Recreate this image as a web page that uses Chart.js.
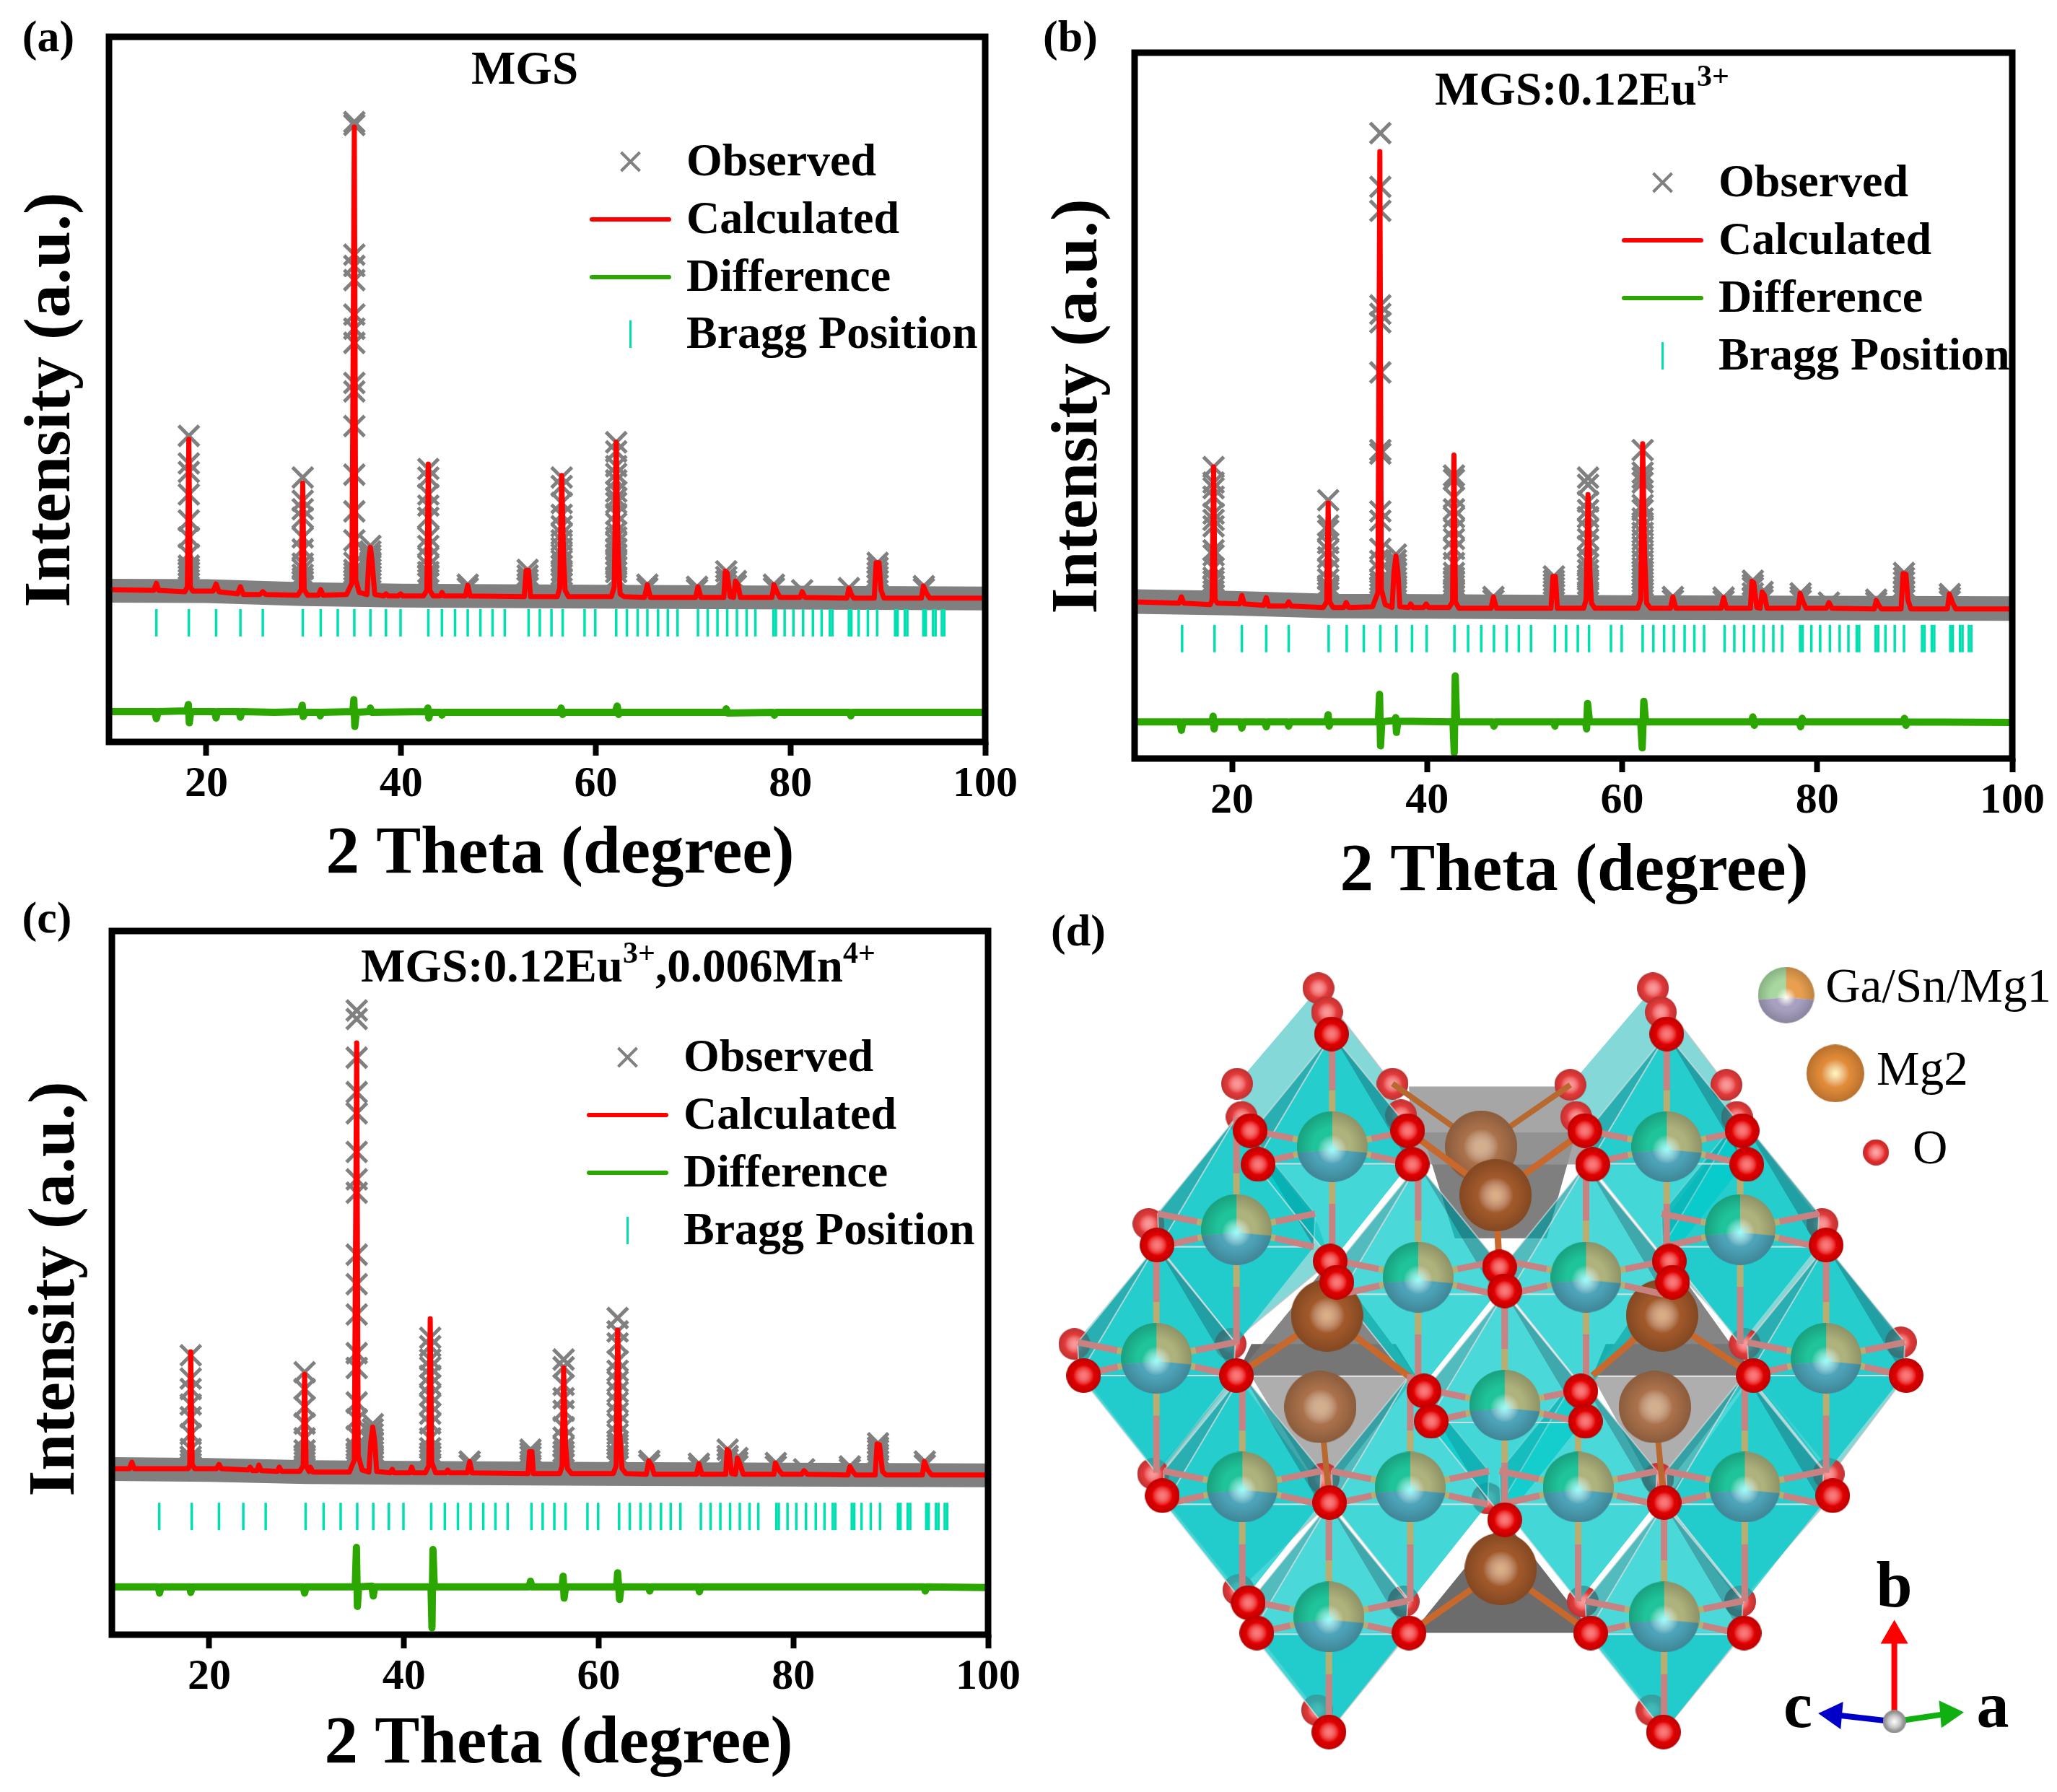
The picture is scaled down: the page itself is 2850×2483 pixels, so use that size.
<!DOCTYPE html>
<html lang="en">
<head>
    <meta charset="UTF-8">
    <title>Rietveld refinement of MGS samples</title>
    <style>
        body { margin: 0; background: #fff; }
        #page { position: relative; width: 2850px; height: 2483px; overflow: hidden; background: #fff; }
        canvas { position: absolute; }
    </style>
    <script src="https://cdn.jsdelivr.net/npm/chart.js"></script>
</head>
<body>
<div id="page">
    <canvas id="chartA" width="1425" height="1290" style="left:0;top:0"></canvas>
    <canvas id="chartB" width="1425" height="1290" style="left:1425px;top:0"></canvas>
    <canvas id="chartC" width="1425" height="1243" style="left:0;top:1240px"></canvas>
    <canvas id="chartD" width="1425" height="1243" style="left:1425px;top:1240px"></canvas>
</div>
<script>
const xTicks = [20, 40, 60, 80, 100];
const legendLabels = ['Observed', 'Calculated', 'Difference', 'Bragg Position'];

const braggPositions = [14.87, 18.2, 21, 23.5, 25.8, 29.9, 31.75, 33.5, 35.2, 36.85, 38.45, 39.95, 42.8, 44.2, 45.55, 46.85,
    48.15, 49.4, 50.65, 53.1, 54.25, 55.45, 56.6, 58.85, 59.95, 62.1, 63.2, 64.3, 65.3, 66.4, 67.4, 68.4, 70.5, 71.5, 72.5,
    73.5, 74.5, 75.5, 76.4, 78.25, 78.5, 79.4, 80.3, 81.3, 82.3, 83.2, 84.05, 84.3, 86, 86.25, 87, 87.95, 88.9, 90.75, 91,
    91.75, 92, 93.65, 93.9, 94.65, 94.9, 95.55, 95.8];

// panel (a), each obs row is: 2theta, then the intensities stacked at that angle
const bandA = [[10, 21.45], [20, 21.4], [30, 20.95], [40, 20.75], [60, 20.6], [100, 20.35]];
const obsA = [
    [18.2, 43.4, 39.5, 38.3, 35.1, 31.4, 29, 26.6, 25, 24.5, 24, 23.5, 23, 22.5],
    [29.9, 37.5, 34.2, 33, 31.8, 29, 27.3, 25.3, 24.5, 23.7, 23.2, 22.7, 22.2],
    [35.2, 87.9, 87.5, 69.1, 67.5, 65.5, 60.6, 58.6, 56.6, 50.9, 49.7, 44.8, 37.9, 32.7, 28.6, 25.4, 24.4, 23.9, 23.4, 22.9, 22.4],
    [36.85, 27.8, 27, 26.5, 26, 25.5, 25, 24.5, 24, 23.5, 23, 22.5],
    [42.8, 38.7, 37.5, 35.1, 33.5, 31.8, 29, 27.8, 26.2, 25, 24.1, 23.5, 23, 22.5],
    [46.85, 22.3, 21.8], [53, 24.4, 23.6, 23, 22.4, 21.9],
    [56.5, 37.5, 36.3, 33.9, 32.2, 30.6, 29.5, 28.6, 27.5, 26.6, 25.7, 25, 24.3, 23.7, 23, 22.5],
    [62.1, 42.5, 41.2, 39.1, 38, 37.1, 35.5, 34.6, 33.9, 32.3, 31, 29.8, 29, 28.2, 27.4, 26.6, 25.9, 25.4, 24.7, 24.1, 23.2, 22.6],
    [65.3, 22.3, 21.8], [70.4, 22, 21.6], [73.4, 24.2, 23.4, 22.8, 22.2], [74.4, 22.8, 22.2], [78.3, 22.3, 21.8], [81.2, 21.5], [86, 21.8],
    [88.95, 25.4, 24.7, 24, 23.4, 22.8, 22.2], [93.7, 22.1, 21.7]
];
const calcA = [[10, 21.6], [14.6, 21.5], [14.87, 22.5], [15.1, 21.5], [17.8, 21.3], [18.05, 22], [18.2, 42.9], [18.35, 22], [18.6, 21.4],
    [20.7, 21.4], [21, 22.4], [21.3, 21.3], [23.2, 21], [23.5, 22], [23.8, 20.9], [25.5, 20.9], [25.8, 21.3], [26.1, 20.9],
    [29.4, 20.8], [29.75, 21.6], [29.9, 36.7], [30.05, 21.6], [30.4, 20.8], [31.5, 20.8], [31.75, 21.6], [32, 20.8],
    [34.4, 20.9], [34.95, 22.5], [35.2, 87.2], [35.35, 23], [35.7, 21.2], [36.5, 20.9], [36.7, 26], [36.85, 27.6], [37, 26], [37.3, 20.9],
    [38.2, 20.7], [38.45, 21], [38.7, 20.7], [39.7, 20.7], [39.95, 21], [40.2, 20.7], [42.3, 20.7], [42.65, 21.5], [42.8, 39.4], [42.95, 21.5],
    [43.3, 20.7], [44, 20.7], [44.2, 21.2], [44.4, 20.7], [46.6, 20.7], [46.85, 22.2], [47.1, 20.7], [52.65, 20.6], [52.85, 24.3], [53.1, 24.3],
    [53.3, 20.6], [56.05, 20.6], [56.3, 21.8], [56.5, 37.8], [56.7, 26], [56.85, 21.5], [57.2, 20.6], [61.6, 20.6], [61.9, 22], [62.1, 42.5],
    [62.3, 27], [62.5, 21], [62.9, 20.6], [65, 20.5], [65.3, 22.3], [65.6, 20.5], [70.25, 20.5], [70.5, 22], [70.8, 20.5], [73.15, 20.5],
    [73.3, 24.2], [73.5, 24], [73.8, 20.6], [74.15, 20.5], [74.35, 22.8], [74.6, 22.3], [74.85, 20.5], [78.1, 20.5], [78.3, 22.3], [78.6, 21.3],
    [78.9, 20.5], [81, 20.5], [81.2, 21.3], [81.5, 20.5], [85.8, 20.4], [86, 21.8], [86.3, 20.8], [86.5, 20.4], [88.6, 20.4], [88.8, 25.4],
    [89.1, 25.4], [89.3, 21.5], [89.6, 20.4], [93.45, 20.4], [93.65, 22.1], [94, 21], [94.3, 20.4], [100, 20.4]];
const diffA = [[10, 4.3], [14.7, 4.3], [14.87, 3.3], [15.05, 4.3], [18, 4.4], [18.15, 5.3], [18.25, 2.7], [18.4, 4.3], [20.85, 4.3], [21, 3.4], [21.15, 4.3],
    [23.35, 4.3], [23.5, 3.5], [23.65, 4.3], [27, 4.2], [29.7, 4.3], [29.85, 5.2], [29.95, 3.6], [30.15, 4.2], [31.6, 4.2], [31.7, 3.7], [31.85, 4.2],
    [35.05, 4.3], [35.15, 6], [35.25, 2.2], [35.4, 4.2], [36.75, 4.3], [36.85, 4.8], [37, 4.2], [42.65, 4.3], [42.75, 4.8], [42.85, 3.4], [43, 4.2],
    [44.1, 4.2], [44.2, 3.8], [44.35, 4.2], [56.3, 4.2], [56.45, 4.8], [56.6, 3.9], [56.75, 4.2], [62, 4.2], [62.2, 5.1], [62.35, 3.9], [62.5, 4.2],
    [73.3, 4.2], [73.4, 4.7], [73.55, 4.1], [78.2, 4.2], [78.35, 3.8], [78.5, 4.2], [86.05, 4.2], [86.2, 3.7], [86.35, 4.2], [100, 4.2]];

// panel (b)
const bandB = [[10, 22.25], [20, 22], [30, 21.6], [40, 21.55], [60, 21.4], [100, 21.25]];
const obsB = [
    [18.1, 41.3, 39.1, 38.3, 37.1, 34.7, 33.8, 32.9, 29.5, 28.8, 27, 25.6, 25.1, 24.3, 23.7, 23.2],
    [29.85, 36.6, 33, 32.3, 30.5, 29.5, 28.5, 26.8, 25.4, 24.5, 24, 23.5, 23],
    [35.2, 88.6, 81, 77.6, 64.2, 63, 61.8, 54.7, 43.7, 43.2, 35, 33.7, 29.7, 28, 26.7, 25.3, 24.8, 24.3, 23.8, 23.3],
    [36.8, 28.9, 28.1, 27.5, 26.9, 26.2, 25.6, 25, 24.5, 24, 23.5, 23],
    [42.75, 40.1, 39.5, 37, 35.3, 34.2, 32.5, 31.1, 29.7, 27.7, 26.3, 25.6, 25, 24.5, 24, 23.5, 23],
    [46.8, 22.9, 22.4], [53, 25.8, 25.2, 24.7, 24.2, 23.7, 23.2],
    [56.5, 39.8, 38.8, 36.4, 35.2, 34.2, 32.5, 31.1, 30.1, 28.4, 27.5, 26.7, 25.9, 25.3, 24.7, 24.2, 23.6, 23.1],
    [62.1, 43.7, 40.5, 39.8, 39.1, 35.9, 35.2, 34, 33, 32, 31, 30, 29, 28, 27, 26.5, 26, 25.5, 25, 24.5, 24, 23.5, 23],
    [65.2, 22.9, 22.4], [70.4, 22.8, 22.3], [73.4, 25.2, 24.6, 24.2, 23.4, 22.8], [74.4, 23.6, 23, 22.5], [78.3, 23.4, 22.9, 22.4], [81.2, 22.1], [86.05, 22.5, 22.1],
    [88.9, 26.3, 25.6, 25, 24.3, 23.6, 23, 22.5], [93.6, 23.3, 22.8, 22.3]
];
const calcB = [[10, 22.2], [14.55, 22], [14.8, 22.9], [15.05, 22], [17.75, 21.8], [17.95, 22.5], [18.1, 41.3], [18.25, 22.5], [18.5, 22], [20.75, 21.9],
    [21, 23.1], [21.25, 21.9], [23.25, 21.7], [23.5, 22.8], [23.75, 21.6], [25.55, 21.6], [25.8, 22.2], [26.05, 21.6], [29.35, 21.4], [29.7, 22.2],
    [29.85, 36.2], [30, 22.2], [30.35, 21.4], [31.45, 21.4], [31.7, 22.1], [31.95, 21.4], [34.4, 21.5], [34.95, 23.5], [35.15, 86], [35.3, 24],
    [35.7, 21.8], [36.4, 21.4], [36.6, 26.5], [36.8, 28.7], [37, 26.5], [37.2, 21.5], [38.1, 21.4], [38.3, 21.9], [38.55, 21.4], [39.65, 21.4],
    [39.9, 21.9], [40.15, 21.4], [42.25, 21.4], [42.6, 22.2], [42.75, 43], [42.9, 22.2], [43.25, 21.3], [46.55, 21.3], [46.8, 22.9], [47.1, 21.3],
    [52.7, 21.3], [52.9, 25.8], [53.15, 25.8], [53.35, 21.3], [56.05, 21.3], [56.3, 22.5], [56.5, 37.4], [56.7, 26], [56.85, 22], [57.2, 21.3],
    [61.6, 21.3], [61.9, 22.5], [62.1, 44.6], [62.3, 29], [62.5, 22], [62.9, 21.3], [64.95, 21.3], [65.2, 22.9], [65.5, 21.3], [70.15, 21.3],
    [70.4, 22.8], [70.7, 21.3], [73.15, 21.3], [73.3, 25.1], [73.5, 24.9], [73.8, 21.4], [74.15, 21.3], [74.35, 23.6], [74.6, 23.1], [74.85, 21.3],
    [78.05, 21.3], [78.25, 23.4], [78.55, 22.2], [78.85, 21.3], [80.95, 21.3], [81.2, 22.1], [81.5, 21.3], [85.85, 21.2], [86.05, 22.4], [86.35, 21.6],
    [86.6, 21.2], [88.6, 21.2], [88.8, 26.2], [89.1, 26.1], [89.3, 22.5], [89.6, 21.2], [93.35, 21.2], [93.55, 23.3], [93.9, 22], [94.2, 21.2], [100, 21.2]];
const diffB = [[10, 5.2], [14.65, 5.2], [14.8, 4], [14.95, 5.2], [17.95, 5.2], [18.05, 6], [18.15, 4.2], [18.3, 5.2], [20.85, 5.2], [21, 4.3], [21.15, 5.2],
    [23.35, 5.2], [23.5, 4.5], [23.65, 5.2], [25.65, 5.2], [25.8, 4.6], [25.95, 5.2], [29.7, 5.2], [29.85, 6.2], [29.95, 4.6], [30.1, 5.2],
    [35, 5.2], [35.12, 9.1], [35.22, 1.8], [35.35, 5.2], [36.65, 5.4], [36.78, 5.8], [36.85, 3.7], [37, 5.3], [42.65, 5.2], [42.78, 0.8], [42.88, 11.7], [43.02, 5.2],
    [46.7, 5.2], [46.85, 4.6], [47, 5.2], [53, 5.2], [53.1, 4.6], [53.2, 5.2], [56.25, 5.2], [56.35, 4.2], [56.45, 7.8], [56.65, 5.2],
    [61.9, 5.2], [62.05, 1.5], [62.22, 8.1], [62.4, 5.2], [73.25, 5.2], [73.4, 5.9], [73.55, 4.7], [73.7, 5.2], [78.15, 5.2], [78.3, 4.5], [78.45, 5.7], [78.6, 5.2],
    [88.8, 5.2], [88.95, 5.7], [89.1, 4.7], [89.25, 5.2], [100, 5.1]];

// panel (c)
const bandC = [[10, 23.55], [20, 23.4], [30, 23.1], [40, 23], [60, 22.85], [100, 22.65]];
const obsC = [
    [18.1, 39.7, 36.4, 34.9, 32.7, 30.9, 28.5, 26.4, 25.3, 24.8, 24.3],
    [29.8, 37.3, 34.9, 32.4, 30, 27.9, 26.2, 25.5, 25, 24.5, 24],
    [35.15, 88.7, 87.5, 82, 77.1, 74.1, 68.6, 64.7, 62.8, 54, 49.8, 45.5, 40, 37.9, 33, 30.6, 28.2, 26.4, 25.8, 25.3, 24.8, 24.3],
    [36.8, 29.9, 29.2, 28.5, 27.8, 27.2, 26.5, 26, 25.5, 25, 24.5, 24],
    [42.7, 42.2, 41, 39.1, 38, 36.8, 35.5, 34, 32.7, 31.4, 30, 27.9, 26.5, 25.8, 25.3, 24.8, 24.3],
    [46.75, 24.6, 24.1], [53, 26.3, 25.8, 25.3, 24.6, 24.1],
    [56.4, 39.1, 38, 35.5, 33.6, 31.8, 29.5, 28, 26.7, 26, 25.4, 24.8, 24.3],
    [61.95, 45, 43.1, 41.4, 38.9, 37.5, 36, 34.5, 33, 31.5, 30, 28.5, 27.5, 27, 26.5, 25.5, 25, 24.5, 24],
    [65.2, 24.7, 24.2], [70.3, 24.3, 23.8], [73.25, 26.3, 25.4, 24.9, 24.3], [74.25, 25.1, 24.5, 24], [78.2, 24.4, 23.9], [81.1, 23.5], [85.8, 23.9, 23.5],
    [88.7, 27.2, 26.6, 26.2, 25.6, 25.2, 24.6, 24], [93.5, 24.6, 24.1]
];
const calcC = [[10, 23.6], [11.8, 23.6], [12.05, 24.5], [12.3, 23.6], [17.85, 23.6], [18, 24.2], [18.1, 40.2], [18.25, 24.2], [18.5, 23.6], [20.75, 23.6],
    [21, 24.2], [21.25, 23.6], [24, 23.4], [24.2, 23.8], [24.45, 23.3], [24.9, 23.3], [25.1, 24.1], [25.35, 23.3], [27, 23.2], [27.2, 23.8],
    [27.45, 23.2], [29.3, 23.2], [29.65, 24], [29.8, 37], [29.95, 24], [30.25, 23.2], [30.4, 23.8], [30.65, 23.1], [34.4, 23.1], [34.9, 24.8],
    [35.15, 84.1], [35.3, 25.5], [35.7, 23.4], [36.4, 23.1], [36.6, 27.5], [36.8, 29.5], [37, 27.5], [37.2, 23.2], [38.6, 23], [38.8, 23.5],
    [39, 23], [40.6, 23], [40.8, 23.8], [41, 23], [42.2, 23], [42.55, 24], [42.7, 44.9], [42.85, 24.5], [43.25, 23], [44.3, 23],
    [44.5, 23.4], [44.7, 23], [46.5, 23], [46.75, 24.6], [47, 23], [52.75, 22.9], [52.9, 26], [53.15, 26], [53.3, 22.9], [56, 22.9],
    [56.25, 24], [56.4, 37.9], [56.6, 27], [56.8, 23.6], [57.2, 22.9], [61.5, 22.9], [61.8, 24], [61.95, 43.3], [62.15, 29], [62.4, 23.6],
    [62.8, 22.9], [64.9, 22.8], [65.15, 24.7], [65.45, 24], [65.7, 22.8], [70.05, 22.8], [70.3, 24.3], [70.6, 22.8], [73.05, 22.8], [73.2, 26.3],
    [73.4, 26], [73.65, 22.9], [74.05, 22.8], [74.25, 25.1], [74.5, 24.3], [74.85, 22.8], [78, 22.8], [78.15, 24.4], [78.5, 23.4], [78.85, 22.8],
    [80.85, 22.8], [81.1, 23.3], [81.45, 22.8], [85.6, 22.7], [85.8, 23.9], [86.15, 23.1], [86.4, 22.7], [88.4, 22.7], [88.6, 27.1], [88.85, 27],
    [89.15, 23.2], [89.5, 22.7], [93.25, 22.7], [93.45, 24.6], [93.8, 23.4], [94.2, 22.7], [100, 22.7]];
const diffC = [[10, 6.8], [14.75, 6.8], [14.9, 5.9], [15.05, 6.8], [18, 6.8], [18.1, 6], [18.25, 6.8], [29.65, 6.8], [29.8, 5.9], [29.95, 6.8],
    [35, 6.8], [35.12, 12.4], [35.22, 4], [35.35, 6.8], [36.7, 6.9], [36.85, 5.5], [37, 6.8], [42.78, 6.8], [42.88, 0.95], [42.98, 12.1], [43.12, 6.8],
    [52.85, 6.8], [53, 7.6], [53.15, 6.8], [56.25, 6.8], [56.35, 8.3], [56.45, 5.2], [56.6, 6.8], [61.85, 6.8], [61.95, 8.8], [62.15, 5], [62.3, 6.8],
    [65.1, 6.8], [65.25, 6.2], [65.4, 6.8], [70.2, 6.8], [70.35, 6.1], [70.5, 6.8], [93.4, 6.8], [93.55, 6.2], [93.7, 6.8], [100, 6.7]];

// panel (d), crystal structure sites in normalised picture units (0-1568)
const metalSites = [[463, 440], [973, 440], [317, 585], [1085, 585], [594, 668], [850, 668], [195, 810], [1216, 810], [726, 892],
    [326, 1035], [582, 1035], [838, 1035], [1092, 1035], [458, 1262], [969, 1262]];
const mg2Sites = [[712, 525], [455, 735], [966, 735], [720, 1178]];
const mg2BackSites = [[690, 440], [445, 895], [955, 895]];
const oxygenSites = [[462, 243], [973, 243], [338, 412], [578, 412], [848, 412], [1088, 412], [350, 471], [585, 471], [860, 471], [1095, 471],
    [196, 612], [1216, 612], [460, 640], [470, 677], [718, 650], [726, 692], [977, 640], [982, 677], [84, 840], [317, 840], [1105, 840], [1338, 840],
    [603, 867], [614, 920], [842, 867], [849, 920], [204, 1050], [1226, 1050], [459, 1062], [969, 1062], [726, 1092], [335, 1237], [348, 1290],
    [580, 1290], [857, 1290], [1091, 1290], [458, 1463], [968, 1463]];
const oxygenBackSites = [[442, 163], [455, 205], [952, 163], [964, 205], [318, 330], [555, 330], [826, 332], [1064, 332], [325, 388], [568, 385],
    [835, 388], [1080, 388], [183, 575], [1210, 575], [70, 785], [308, 785], [1092, 785], [1330, 782], [190, 1012], [1220, 1012], [450, 1020], [960, 1020],
    [700, 1055], [320, 1215], [572, 1235], [845, 1235], [1085, 1235], [440, 1425], [950, 1425]];
const octaCorners = [[0, -197], [120, -28], [118, 30], [0, 200], [-118, 30], [-120, -28]];
const paleFaces = [
    [[442, 163], [555, 330], [585, 471], [350, 471], [318, 330]], [[952, 163], [1064, 332], [1095, 471], [860, 471], [826, 332]],
    [[318, 388], [440, 575], [460, 640], [308, 785], [196, 612], [183, 575]], [[1085, 390], [1210, 575], [1216, 612], [1092, 785], [982, 650], [965, 575]],
    [[70, 785], [84, 840], [200, 1012], [317, 840], [308, 785], [196, 612]], [[1092, 785], [1105, 840], [1226, 1010], [1338, 840], [1330, 782], [1216, 612]],
    [[190, 1012], [204, 1050], [320, 1215], [459, 1062], [317, 840]], [[969, 1062], [1085, 1235], [1226, 1050], [1220, 1012], [1105, 840]],
    [[348, 1290], [440, 1425], [458, 1463], [580, 1290]], [[857, 1290], [950, 1425], [968, 1463], [1091, 1290]]
];
const greyFaces = [
    [[[580, 335], [826, 335], [860, 471], [585, 471]], 'rgba(150,150,150,0.85)'],
    [[[600, 415], [835, 415], [790, 600], [650, 600]], 'rgba(105,105,105,0.85)'],
    [[[317, 840], [460, 640], [590, 840]], 'rgba(120,120,120,0.9)'],
    [[[340, 785], [560, 785], [590, 840], [317, 840]], 'rgba(90,90,90,0.9)'],
    [[[860, 840], [980, 640], [1105, 840]], 'rgba(120,120,120,0.9)'],
    [[[880, 785], [1075, 785], [1105, 840], [860, 840]], 'rgba(90,90,90,0.9)'],
    [[[340, 842], [590, 842], [450, 1050]], 'rgba(165,165,165,0.9)'],
    [[[860, 842], [1100, 842], [960, 1050]], 'rgba(165,165,165,0.9)'],
    [[[585, 1290], [725, 1092], [860, 1290]], 'rgba(100,100,100,0.95)']
];
const mgBonds = [[[712, 525], [578, 412]], [[712, 525], [848, 412]], [[712, 525], [718, 650]], [[455, 735], [317, 840]], [[455, 735], [590, 850]],
    [[455, 735], [460, 640]], [[966, 735], [860, 840]], [[966, 735], [1105, 840]], [[966, 735], [982, 677]], [[720, 1178], [580, 1290]],
    [[720, 1178], [857, 1290]], [[720, 1178], [726, 1092]]];
const mgBackBonds = [[[690, 440], [555, 330]], [[690, 440], [826, 332]], [[445, 895], [459, 1062]], [[955, 895], [969, 1062]]];
const crystalLegend = [['Ga/Sn/Mg1', 1215, 165], ['Mg2', 1293, 310], ['O', 1348, 447]];
const crystalLegendAtoms = [[1155, 175], [1230, 312], [1292, 450]];
const axisLetters = [['b', 1320, 1215], ['c', 1173, 1425], ['a', 1470, 1425]];

const serif = '"Liberation Serif", "Times New Roman", serif';
const toPoints = list => list.map(([x, y]) => ({ x: x, y: y }));
const stacked = rows => rows.flatMap(([x, ...ys]) => ys.map(y => ({ x: x, y: y })));
const bondPoints = list => list.flatMap(([a, b]) => [{ x: a[0], y: a[1] }, { x: b[0], y: b[1] }, { x: NaN, y: NaN }]);

// axis titles, sublabels and legend that sit at fixed places in each panel
const panelText = {
    id: 'panelText',
    afterDraw(chart, args, opts) {
        const ctx = chart.ctx;
        const area = chart.chartArea;
        ctx.save();
        if (opts.frame) {
            ctx.strokeStyle = '#000';
            ctx.lineWidth = 9;
            ctx.strokeRect(area.left, area.top, area.right - area.left, area.bottom - area.top);
        }
        ctx.fillStyle = '#000';
        ctx.textBaseline = 'middle';
        (opts.texts || []).forEach(t => {
            ctx.save();
            ctx.font = t.font;
            ctx.textAlign = t.align || 'center';
            ctx.translate(t.x, t.y);
            if (t.rotate) ctx.rotate(t.rotate);
            ctx.fillText(t.text, 0, 0);
            ctx.restore();
        });
        if (opts.runs) {
            let x = opts.runs.x;
            opts.runs.parts.forEach(([text, sup]) => {
                ctx.font = 'bold ' + (sup ? 42 : 65) + 'px ' + serif;
                ctx.textAlign = 'left';
                ctx.fillText(text, x, opts.runs.y - (sup ? 20 : 0));
                x += ctx.measureText(text).width;
            });
        }
        if (opts.legend) {
            const lg = opts.legend;
            const mid = (lg.x0 + lg.x1) / 2;
            ctx.lineCap = 'butt';
            ctx.strokeStyle = '#808080';
            ctx.lineWidth = 4;
            ctx.beginPath();
            ctx.moveTo(mid - 13, lg.rows[0] - 13); ctx.lineTo(mid + 13, lg.rows[0] + 13);
            ctx.moveTo(mid + 13, lg.rows[0] - 13); ctx.lineTo(mid - 13, lg.rows[0] + 13);
            ctx.stroke();
            ctx.lineCap = 'round';
            ctx.lineWidth = 6;
            ctx.strokeStyle = '#ff0000';
            ctx.beginPath(); ctx.moveTo(lg.x0, lg.rows[1]); ctx.lineTo(lg.x1, lg.rows[1]); ctx.stroke();
            ctx.strokeStyle = '#2ca600';
            ctx.beginPath(); ctx.moveTo(lg.x0, lg.rows[2]); ctx.lineTo(lg.x1, lg.rows[2]); ctx.stroke();
            ctx.lineCap = 'butt';
            ctx.lineWidth = 3;
            ctx.strokeStyle = '#00dfb0';
            ctx.beginPath(); ctx.moveTo(mid, lg.rows[3] - 19); ctx.lineTo(mid, lg.rows[3] + 19); ctx.stroke();
            ctx.font = 'bold 64px ' + serif;
            ctx.textAlign = 'left';
            legendLabels.forEach((label, i) => ctx.fillText(label, lg.text, lg.rows[i] + 2));
        }
        ctx.restore();
    }
};

function patternChart(id, cfg) {
    const canvas = document.getElementById(id);
    return new Chart(canvas, {
        type: 'scatter',
        data: {
            datasets: [
                { label: 'Difference', data: toPoints(cfg.diff), showLine: true, borderColor: '#2ca600', borderWidth: 10, pointRadius: 0, borderJoinStyle: 'round', borderCapStyle: 'round' },
                { label: 'Bragg Position', data: braggPositions.map(x => ({ x: x, y: cfg.braggY })), pointStyle: 'line', rotation: 90, pointRadius: 19, pointBorderWidth: 3.5, pointBorderColor: '#00dfb0', borderColor: '#00dfb0', backgroundColor: '#00dfb0' },
                { label: 'Calculated', data: toPoints(cfg.calc), showLine: true, borderColor: '#ff0000', borderWidth: 7, pointRadius: 0, borderJoinStyle: 'round', borderCapStyle: 'round' },
                { label: 'Observed', data: stacked(cfg.obs), pointStyle: 'crossRot', pointRadius: 20, pointBorderWidth: 5, pointBorderColor: '#808080', borderColor: '#808080' },
                { label: 'Observed baseline', data: toPoints(cfg.band), showLine: true, borderColor: '#808080', borderWidth: cfg.bandWidth, pointRadius: 0 }
            ]
        },
        plugins: [panelText],
        options: {
            responsive: false,
            animation: false,
            devicePixelRatio: 1,
            layout: { autoPadding: false, padding: { left: 0, top: cfg.top, right: canvas.width - cfg.right, bottom: 0 } },
            scales: {
                x: {
                    type: 'linear', min: 10, max: 100,
                    border: { display: false },
                    grid: { display: true, drawOnChartArea: false, drawTicks: true, tickLength: 19, tickWidth: 8, tickColor: '#000' },
                    ticks: { color: '#000', padding: 4, maxRotation: 0, autoSkip: false, font: { family: serif, weight: 'bold', size: 60 } },
                    afterBuildTicks: s => { s.ticks = xTicks.map(v => ({ value: v })); },
                    afterFit: s => { s.height = canvas.height - cfg.bottom; }
                },
                y: {
                    type: 'linear', min: 0, max: 100,
                    border: { display: false },
                    grid: { display: false },
                    ticks: { display: false },
                    afterFit: s => { s.width = cfg.left; }
                }
            },
            plugins: {
                legend: { display: false },
                tooltip: { enabled: false },
                panelText: {
                    frame: true,
                    legend: cfg.legend,
                    runs: cfg.runs,
                    texts: cfg.texts
                }
            }
        }
    });
}

const axisFont = 'bold 93px ' + serif;
const yFont = 'bold 92px ' + serif;
const tagFont = 'bold 62px ' + serif;

patternChart('chartA', {
    left: 151, right: 1365, top: 51, bottom: 1028, braggY: 16.9, band: bandA, bandWidth: 33, obs: obsA, calc: calcA, diff: diffA,
    legend: { x0: 820, x1: 927, text: 951, rows: [224, 304, 384, 463] },
    texts: [
        { text: 'Intensity (a.u.)', x: 72, y: 554, font: yFont, rotate: -Math.PI / 2 },
        { text: '2 Theta (degree)', x: 776, y: 1185, font: axisFont },
        { text: '(a)', x: 67, y: 55, font: tagFont },
        { text: 'MGS', x: 727, y: 99, font: 'bold 65px ' + serif }
    ]
});
patternChart('chartB', {
    left: 147, right: 1363, top: 73, bottom: 1051, braggY: 17, band: bandB, bandWidth: 34, obs: obsB, calc: calcB, diff: diffB,
    legend: { x0: 825, x1: 932, text: 956, rows: [253, 333, 413, 493] },
    runs: { x: 563, y: 128, parts: [['MGS:0.12Eu'], ['3+', true]] },
    texts: [
        { text: 'Intensity (a.u.)', x: 70, y: 563, font: yFont, rotate: -Math.PI / 2 },
        { text: '2 Theta (degree)', x: 756, y: 1209, font: axisFont },
        { text: '(b)', x: 58, y: 55, font: tagFont }
    ]
});
patternChart('chartC', {
    left: 155, right: 1369, top: 50, bottom: 1025, braggY: 16.8, band: bandC, bandWidth: 33, obs: obsC, calc: calcC, diff: diffC,
    legend: { x0: 816, x1: 923, text: 947, rows: [225, 305, 385, 465] },
    runs: { x: 500, y: 103, parts: [['MGS:0.12Eu'], ['3+', true], [',0.006Mn'], ['4+', true]] },
    texts: [
        { text: 'Intensity (a.u.)', x: 78, y: 546, font: yFont, rotate: -Math.PI / 2 },
        { text: '2 Theta (degree)', x: 774, y: 1178, font: axisFont },
        { text: '(c)', x: 65, y: 36, font: tagFont }
    ]
});

// shaded atoms used as point styles
function sphere(r, paint) {
    const c = document.createElement('canvas');
    c.width = c.height = 2 * r;
    const g = c.getContext('2d');
    g.beginPath();
    g.arc(r, r, r, 0, Math.PI * 2);
    g.clip();
    paint(g, r);
    const edge = g.createRadialGradient(r, r, r * 0.55, r, r, r);
    edge.addColorStop(0, 'rgba(0,0,0,0)');
    edge.addColorStop(1, 'rgba(0,0,0,0.18)');
    g.fillStyle = edge;
    g.fillRect(0, 0, 2 * r, 2 * r);
    return c;
}
function glow(g, r, color, size, dy) {
    const cy = r + (dy || 0);
    const h = g.createRadialGradient(r, cy, 0, r, cy, r * size);
    h.addColorStop(0, color);
    h.addColorStop(1, 'rgba(255,255,255,0)');
    g.fillStyle = h;
    g.fillRect(0, 0, 2 * r, 2 * r);
}
function wedges(colors) {
    return (g, r) => {
        const cy = r * 1.08;
        [[Math.PI * 0.97, Math.PI * 1.5, colors[0]], [Math.PI * 1.5, Math.PI * 2.03, colors[1]], [Math.PI * 0.03, Math.PI * 0.97, colors[2]]].forEach(([a, b, col]) => {
            g.fillStyle = col;
            g.beginPath();
            g.moveTo(r, cy);
            g.arc(r, cy, r * 1.5, a, b);
            g.closePath();
            g.fill();
        });
    };
}
const solid = (color, hi, size) => (g, r) => {
    g.fillStyle = color;
    g.fillRect(0, 0, 2 * r, 2 * r);
    glow(g, r, hi, size);
};
const metalSprite = sphere(49, (g, r) => { wedges(['#1fc49a', '#aeb27c', '#4da3b8'])(g, r); glow(g, r, 'rgba(150,255,255,1)', 0.42, r * 0.08); });
const legendMetal = sphere(39, (g, r) => { wedges(['#a8d8a0', '#e8a050', '#a8a0c0'])(g, r); glow(g, r, 'rgba(255,255,240,1)', 0.35, r * 0.08); });
const mgSprite = sphere(50, solid('#a0582a', 'rgba(225,175,130,1)', 0.5));
const mgBackSprite = sphere(50, solid('#a9704a', 'rgba(215,175,135,1)', 0.5));
const legendMg = sphere(40, solid('#e08a38', 'rgba(255,250,190,1)', 0.5));
const oxygenSprite = sphere(24, solid('#e60000', 'rgba(255,120,120,1)', 0.6));
const oxygenBackSprite = sphere(22, solid('#e83c3c', 'rgba(255,150,150,1)', 0.6));
const legendOxygen = sphere(18, solid('#ee3030', 'rgba(255,170,170,1)', 0.7));
const ballSprite = sphere(16, solid('#a8a8a8', 'rgba(255,255,255,1)', 0.8));

const polyDataset = (list, fill, stroke, width) => ({ data: toPoints(list), showLine: true, fill: 'shape', backgroundColor: fill, borderColor: stroke || 'rgba(0,0,0,0)', borderWidth: width || 0, pointRadius: 0 });
const atomDataset = (list, sprite) => ({ data: toPoints(list), pointStyle: sprite, pointRadius: 20 });
const arrowDataset = (tail, head, angle, color) => ({ data: toPoints([tail, head]), showLine: true, borderColor: color, borderWidth: 8, backgroundColor: color, pointBorderColor: color, pointStyle: 'triangle', rotation: angle, pointRadius: [0, 14] });

const frontFaces = [];
const edgeFaces = [];
const bondsInner = [];
const bondsOuter = [];
metalSites.forEach(([mx, my]) => {
    const c = octaCorners.map(([dx, dy]) => [mx + dx, my + dy]);
    frontFaces.push(polyDataset(c, 'rgba(0,195,195,0.55)'));
    edgeFaces.push(polyDataset([c[0], c[4], c[2]], 'rgba(0,205,205,0.35)', 'rgba(225,225,225,0.7)', 2));
    edgeFaces.push(polyDataset([c[3], c[4], c[2]], 'rgba(0,205,205,0.42)', 'rgba(225,225,225,0.7)', 2));
    edgeFaces.push(polyDataset([c[0], c[1], c[2]], 'rgba(0,105,115,0.45)', 'rgba(225,225,225,0.6)', 2));
    edgeFaces.push(polyDataset([c[0], c[5], c[4]], 'rgba(0,105,115,0.3)', 'rgba(225,225,225,0.6)', 2));
    c.forEach(([x, y]) => {
        const hx = (x + mx) / 2, hy = (y + my) / 2;
        bondsInner.push({ x: mx, y: my }, { x: hx, y: hy }, { x: NaN, y: NaN });
        bondsOuter.push({ x: hx, y: hy }, { x: x, y: y }, { x: NaN, y: NaN });
    });
});

// first dataset is painted last, so this list runs from front to back
new Chart(document.getElementById('chartD'), {
    type: 'scatter',
    data: {
        datasets: [
            atomDataset([[1320, 1445]], ballSprite),
            arrowDataset([1320, 1445], [1320, 1295], 0, '#ff0000'),
            arrowDataset([1320, 1445], [1228, 1433], -85, '#0000c8'),
            arrowDataset([1320, 1445], [1402, 1431], 85, '#10b010'),
            atomDataset([crystalLegendAtoms[0]], legendMetal),
            atomDataset([crystalLegendAtoms[1]], legendMg),
            atomDataset([crystalLegendAtoms[2]], legendOxygen),
            atomDataset(oxygenSites, oxygenSprite),
            atomDataset(metalSites, metalSprite),
            { data: bondsInner, showLine: true, spanGaps: false, borderColor: '#b9ad72', borderWidth: 9, pointRadius: 0 },
            { data: bondsOuter, showLine: true, spanGaps: false, borderColor: '#c98282', borderWidth: 9, pointRadius: 0 },
            atomDataset(mg2Sites, mgSprite),
            { data: bondPoints(mgBonds), showLine: true, spanGaps: false, borderColor: '#c8682c', borderWidth: 9, pointRadius: 0 },
            ...edgeFaces,
            ...frontFaces,
            atomDataset(mg2BackSites, mgBackSprite),
            { data: bondPoints(mgBackBonds), showLine: true, spanGaps: false, borderColor: '#b8692f', borderWidth: 8, pointRadius: 0 },
            atomDataset(oxygenBackSites, oxygenBackSprite),
            ...paleFaces.map(f => polyDataset(f, 'rgba(50,190,190,0.6)', 'rgba(190,190,190,0.6)', 2)),
            ...greyFaces.map(([f, color]) => polyDataset(f, color))
        ]
    },
    plugins: [panelText, {
        id: 'crystalText',
        afterDraw(chart) {
            const ctx = chart.ctx, sx = chart.scales.x, sy = chart.scales.y;
            ctx.save();
            ctx.fillStyle = '#000';
            ctx.textBaseline = 'middle';
            ctx.textAlign = 'left';
            ctx.font = '67px ' + serif;
            crystalLegend.forEach(([t, x, y]) => ctx.fillText(t, sx.getPixelForValue(x), sy.getPixelForValue(y)));
            ctx.font = 'bold 90px ' + serif;
            ctx.textAlign = 'center';
            axisLetters.forEach(([t, x, y]) => ctx.fillText(t, sx.getPixelForValue(x), sy.getPixelForValue(y)));
            ctx.restore();
        }
    }],
    options: {
        responsive: false,
        animation: false,
        devicePixelRatio: 1,
        layout: { autoPadding: false, padding: 0 },
        scales: {
            x: { type: 'linear', min: 0, max: 1568, display: false },
            y: { type: 'linear', min: 0, max: 1568, reverse: true, display: false }
        },
        plugins: {
            legend: { display: false },
            tooltip: { enabled: false },
            panelText: { texts: [{ text: '(d)', x: 69, y: 54, font: 'bold 62px ' + serif }] }
        }
    }
});
</script>
</body>
</html>
